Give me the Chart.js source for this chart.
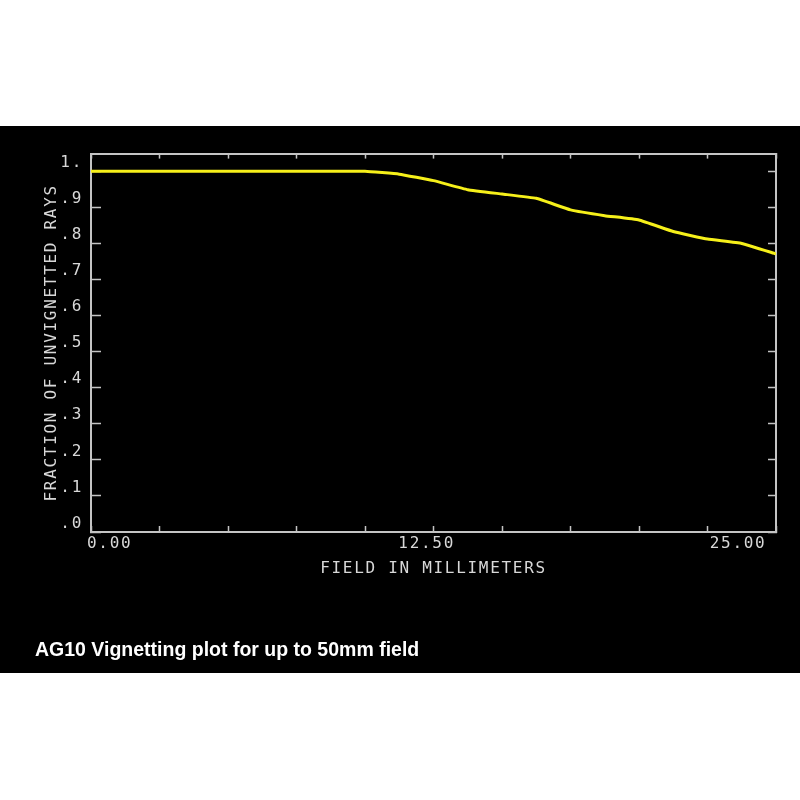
<!DOCTYPE html>
<html>
<head>
<meta charset="utf-8">
<script src="https://cdn.jsdelivr.net/npm/chart.js@4.4.1/dist/chart.umd.min.js"></script>
<style>
  html, body { margin: 0; padding: 0; background: #ffffff; width: 800px; height: 800px; overflow: hidden; }
  #band { position: absolute; left: 0; top: 126px; width: 800px; height: 547px; background: #000000; }
  #chart { position: absolute; left: 0; top: 0; }
  #caption { position: absolute; left: 35px; top: 512px; font-family: "Liberation Sans", Arial, sans-serif;
             font-weight: bold; font-size: 19.5px; line-height: 22px; color: #ffffff; white-space: nowrap; }
</style>
</head>
<body>
<div id="band">
  <canvas id="chart" width="800" height="547"></canvas>
  <div id="caption">AG10 Vignetting plot for up to 50mm field</div>
</div>
<script>
// ---- data ----
const FIELD_MM = [0, 1.375, 2.75, 4.125, 5.5, 6.875, 8.25, 9.625, 11, 12.375, 13.75, 15.125, 16.5, 17.875, 19.25, 20.625, 22, 23.375, 24.75, 26.125, 27.5];
const FRACTION = [1.0, 1.0, 1.0, 1.0, 1.0, 1.0, 1.0, 1.0, 1.0, 0.992, 0.974, 0.949, 0.937, 0.925, 0.893, 0.877, 0.865, 0.833, 0.812, 0.800, 0.771];

const X_TICK_MARKS = [0, 2.75, 5.5, 8.25, 11, 13.75, 16.5, 19.25, 22, 24.75, 27.5];
const X_LABEL_VALUES = [0, 12.5, 25];
const X_LABELS = ['0.00', '12.50', '25.00'];
const Y_TICKS = [0, 0.1, 0.2, 0.3, 0.4, 0.5, 0.6, 0.7, 0.8, 0.9, 1.0];
const Y_LABELS = ['.0', '.1', '.2', '.3', '.4', '.5', '.6', '.7', '.8', '.9', '1.'];
const X_MIN = 0, X_MAX = 27.5, Y_MIN = 0, Y_MAX = 1.049;

const X_TITLE = 'FIELD IN MILLIMETERS';
const Y_TITLE = 'FRACTION OF UNVIGNETTED RAYS';

// ---- styling ----
const AXIS_COLOR = '#c4c4c4';
const TEXT_COLOR = '#d8d8d8';
const LINE_COLOR = '#f6f01a';
const MONO = { family: '"DejaVu Sans Mono", monospace', size: 16, lineHeight: 1.2 };
const SPACING = '1.7px';

const spacingPlugin = {
  id: 'spacing',
  beforeUpdate(c) { c.ctx.letterSpacing = SPACING; },
  beforeLayout(c) { c.ctx.letterSpacing = SPACING; },
  beforeDraw(c) { c.ctx.letterSpacing = SPACING; }
};

function xTicks(axis) {
  const vals = X_TICK_MARKS.concat(X_LABEL_VALUES).filter((v, i, a) => a.indexOf(v) === i).sort((a, b) => a - b);
  axis.ticks = vals.map(v => ({ value: v }));
}
function xTickMarksOnly(axis) { axis.ticks = X_TICK_MARKS.map(v => ({ value: v })); }
function yTicks(axis) { axis.ticks = Y_TICKS.map(v => ({ value: v })); }
const isMark = v => X_TICK_MARKS.some(t => Math.abs(t - v) < 1e-9);

new Chart(document.getElementById('chart'), {
  type: 'line',
  data: {
    datasets: [{
      data: FIELD_MM.map((x, i) => ({ x: x, y: FRACTION[i] })),
      borderColor: LINE_COLOR,
      borderWidth: 3,
      pointRadius: 0,
      tension: 0.1,
      fill: false
    }]
  },
  plugins: [spacingPlugin],
  options: {
    responsive: false,
    devicePixelRatio: 1,
    animation: false,
    layout: { padding: 0 },
    plugins: { legend: { display: false }, tooltip: { enabled: false }, title: { display: false } },
    scales: {
      x: {
        type: 'linear', position: 'bottom', min: X_MIN, max: X_MAX,
        afterBuildTicks: xTicks,
        afterFit: s => { s.height = 141; },
        ticks: {
          autoSkip: false, maxRotation: 0, align: 'start', labelOffset: -4, padding: 8.6,
          color: TEXT_COLOR, font: MONO,
          callback: v => { const i = X_LABEL_VALUES.indexOf(v); return i >= 0 ? X_LABELS[i] : ''; }
        },
        grid: {
          drawOnChartArea: false, drawTicks: true, tickLength: -6, tickWidth: 1.5,
          tickColor: c => (c.tick && isMark(c.tick.value)) ? AXIS_COLOR : 'rgba(0,0,0,0)'
        },
        border: { display: true, color: AXIS_COLOR, width: 2 },
        title: { display: true, text: X_TITLE, color: TEXT_COLOR, font: MONO, padding: { top: 0, bottom: 95 } }
      },
      xTop: {
        type: 'linear', position: 'top', min: X_MIN, max: X_MAX,
        afterBuildTicks: xTickMarksOnly,
        afterFit: s => { s.height = 26; },
        ticks: { display: false },
        grid: { drawOnChartArea: false, drawTicks: true, tickLength: -5, tickWidth: 1.5, tickColor: AXIS_COLOR },
        border: { display: true, color: AXIS_COLOR, width: 2 }
      },
      y: {
        type: 'linear', position: 'left', min: Y_MIN, max: Y_MAX,
        afterBuildTicks: yTicks,
        afterFit: s => { s.width = 91; },
        ticks: {
          autoSkip: false, padding: 18, labelOffset: -8.5, color: TEXT_COLOR, font: MONO,
          callback: v => { const i = Y_TICKS.findIndex(t => Math.abs(t - v) < 1e-9); return i >= 0 ? Y_LABELS[i] : ''; }
        },
        grid: { drawOnChartArea: false, drawTicks: true, tickLength: -10, tickWidth: 1.5, tickColor: AXIS_COLOR },
        border: { display: true, color: AXIS_COLOR, width: 2 },
        title: { display: true, text: Y_TITLE, color: TEXT_COLOR, font: MONO, padding: { top: 42, bottom: 0 } }
      },
      yRight: {
        type: 'linear', position: 'right', min: Y_MIN, max: Y_MAX,
        afterBuildTicks: yTicks,
        afterFit: s => { s.width = 24; },
        ticks: { display: false },
        grid: { drawOnChartArea: false, drawTicks: true, tickLength: -8, tickWidth: 1.5, tickColor: AXIS_COLOR },
        border: { display: true, color: AXIS_COLOR, width: 2 }
      }
    }
  }
});
</script>
</body>
</html>
